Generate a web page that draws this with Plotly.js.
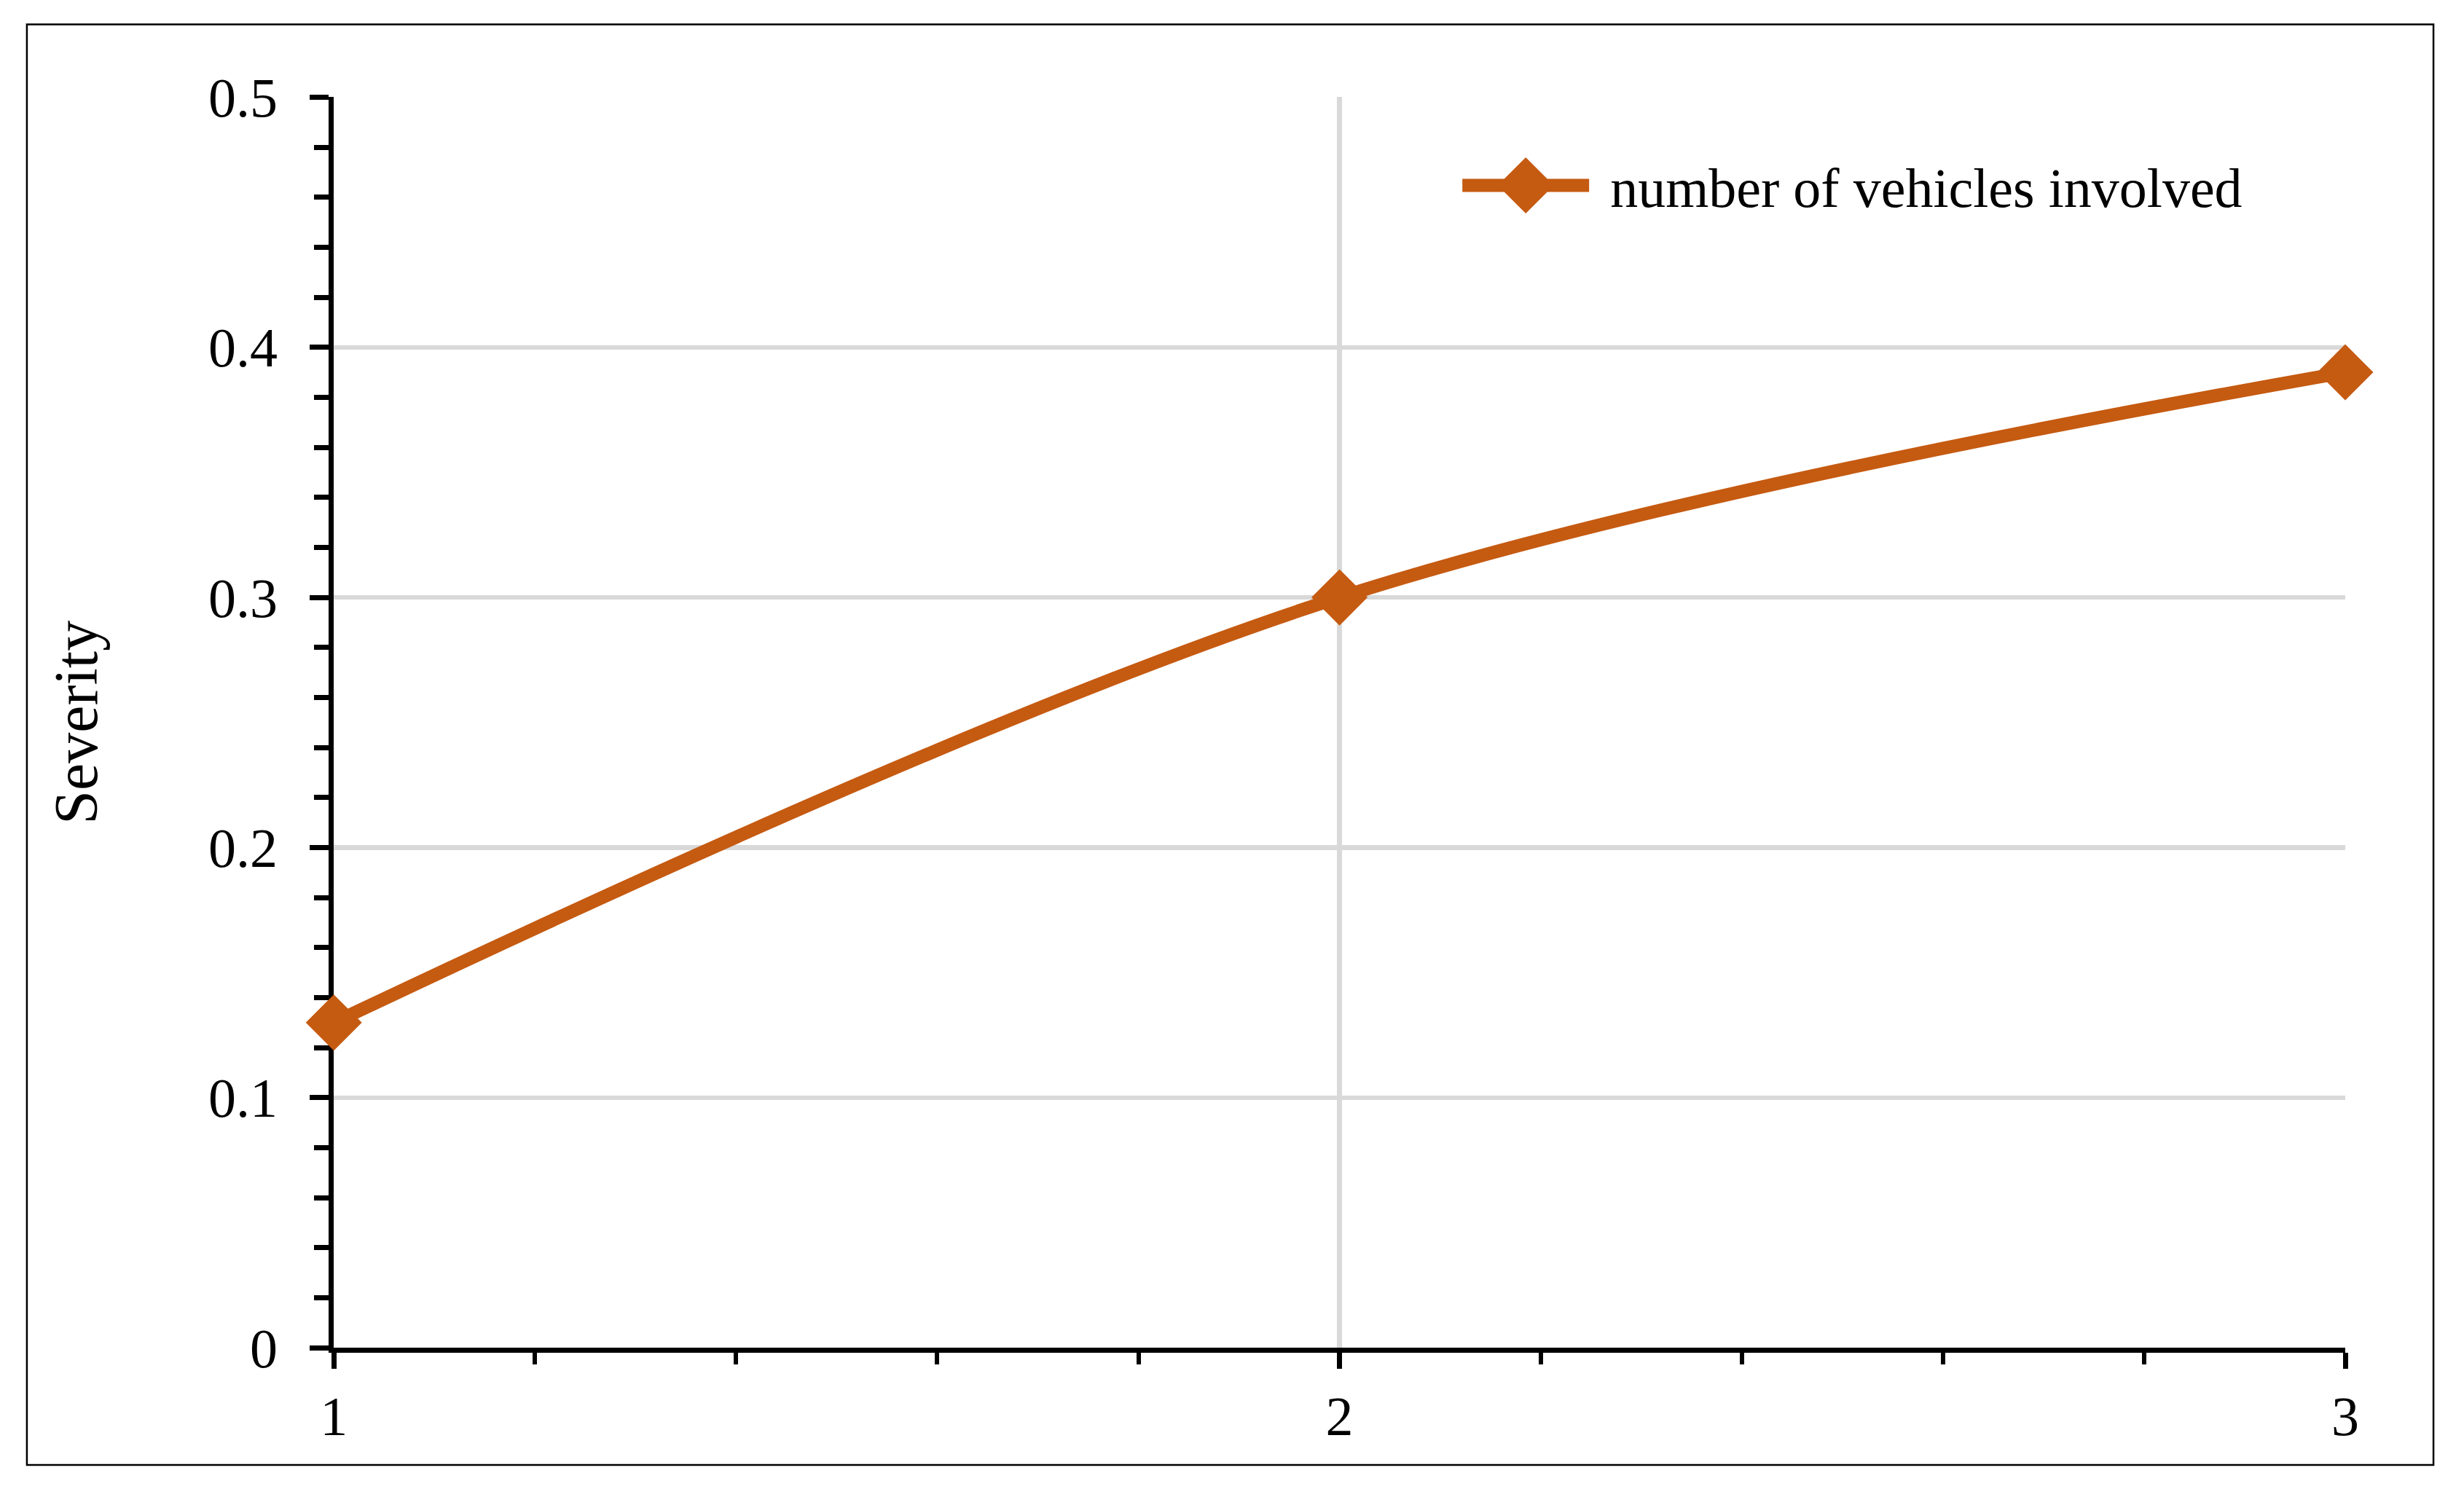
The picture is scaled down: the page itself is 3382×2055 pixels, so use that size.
<!DOCTYPE html>
<html>
<head>
<meta charset="utf-8">
<script src="https://cdn.plot.ly/plotly-3.0.1.min.js"></script>
<style>
html, body { margin: 0; padding: 0; background: #ffffff; width: 3382px; height: 2055px; }
#wrap { position: relative; width: 3382px; height: 2055px; overflow: visible; }
#chart { position: absolute; left: 0; top: 0; transform-origin: 0 0; }
</style>
</head>
<body>
<div id="wrap"><div id="chart"></div></div>
<script>
// ---- data ----
const vehiclesInvolved = [1, 2, 3];
const severity = [0.13, 0.30, 0.39];
const seriesName = 'number of vehicles involved';
const yAxisTitle = 'Severity';
const xTickValues = [1, 2, 3];
const xTickLabels = ['1', '2', '3'];
const yTickValues = [0, 0.1, 0.2, 0.3, 0.4, 0.5];
const yTickLabels = ['0', '0.1', '0.2', '0.3', '0.4', '0.5'];

// ---- geometry (full-size pixels, rendered scaled) ----
const FULL_W = 3382, FULL_H = 2055;
const S = 5.8;
const px = v => v / S;
const plotL = 458, plotR = 3217, plotT = 133, plotB = 1852;
const toPaperX = X => (X - plotL) / (plotR - plotL);
const toPaperY = Y => (plotB - Y) / (plotB - plotT);
const ORANGE = '#C55A11';
const GRID = '#D9D9D9';
const FONT = '"Liberation Serif", "Times New Roman", serif';

const trace = {
  x: vehiclesInvolved,
  y: severity,
  name: seriesName,
  type: 'scatter',
  mode: 'lines+markers',
  line: { color: ORANGE, width: px(18), shape: 'spline', smoothing: 1 },
  marker: { symbol: 'diamond', size: px(77) / 1.3, color: ORANGE, line: { width: 0 } },
  cliponaxis: false,
  showlegend: true
};

const axisCommon = {
  showgrid: true,
  gridcolor: GRID,
  gridwidth: px(6.5),
  zeroline: false,
  showline: true,
  linecolor: '#000000',
  linewidth: px(7),
  ticks: 'outside',
  tickwidth: px(7),
  tickcolor: '#000000',
  tickfont: { family: FONT, size: px(76), color: '#000000' },
  layer: 'below traces',
  fixedrange: true
};

const layout = {
  width: FULL_W / S,
  height: FULL_H / S,
  margin: { l: px(plotL), r: px(FULL_W - plotR), t: px(plotT), b: px(FULL_H - plotB), pad: 0 },
  paper_bgcolor: '#ffffff',
  plot_bgcolor: '#ffffff',
  font: { family: FONT, color: '#000000' },
  showlegend: true,
  xaxis: Object.assign({}, axisCommon, {
    range: [1, 3],
    tickmode: 'array',
    tickvals: xTickValues,
    ticktext: xTickLabels,
    ticklen: px(22),
    minor: { tickmode: 'linear', tick0: 1, dtick: 0.2, ticks: 'outside', ticklen: px(16), tickwidth: px(6), tickcolor: '#000000', showgrid: false }
  }),
  yaxis: Object.assign({}, axisCommon, {
    range: [0, 0.5],
    tickmode: 'array',
    tickvals: yTickValues,
    ticktext: yTickLabels,
    ticklen: px(26),
    ticklabelstandoff: Math.round(px(28)),
    minor: { tickmode: 'linear', tick0: 0, dtick: 0.02, ticks: 'outside', ticklen: px(20), tickwidth: px(7), tickcolor: '#000000', showgrid: false },
    title: { text: yAxisTitle, font: { family: FONT, size: px(84), color: '#000000' }, standoff: px(127) }
  }),
  legend: {
    x: toPaperX(1977), xanchor: 'left',
    y: toPaperY(257), yanchor: 'middle',
    font: { family: FONT, size: px(76), color: '#000000' },
    bgcolor: 'rgba(0,0,0,0)',
    borderwidth: 0
  },
  shapes: [{
    type: 'rect', xref: 'paper', yref: 'paper',
    x0: toPaperX(37), x1: toPaperX(3338),
    y0: toPaperY(2013), y1: toPaperY(33),
    line: { color: '#000000', width: px(2.5) },
    fillcolor: 'rgba(0,0,0,0)',
    layer: 'below'
  }]
};

const el = document.getElementById('chart');
Plotly.newPlot(el, [trace], layout, { staticPlot: true, displayModeBar: false }).then(() => {
  el.style.transform = 'scale(' + S + ')';
});
</script>
</body>
</html>
